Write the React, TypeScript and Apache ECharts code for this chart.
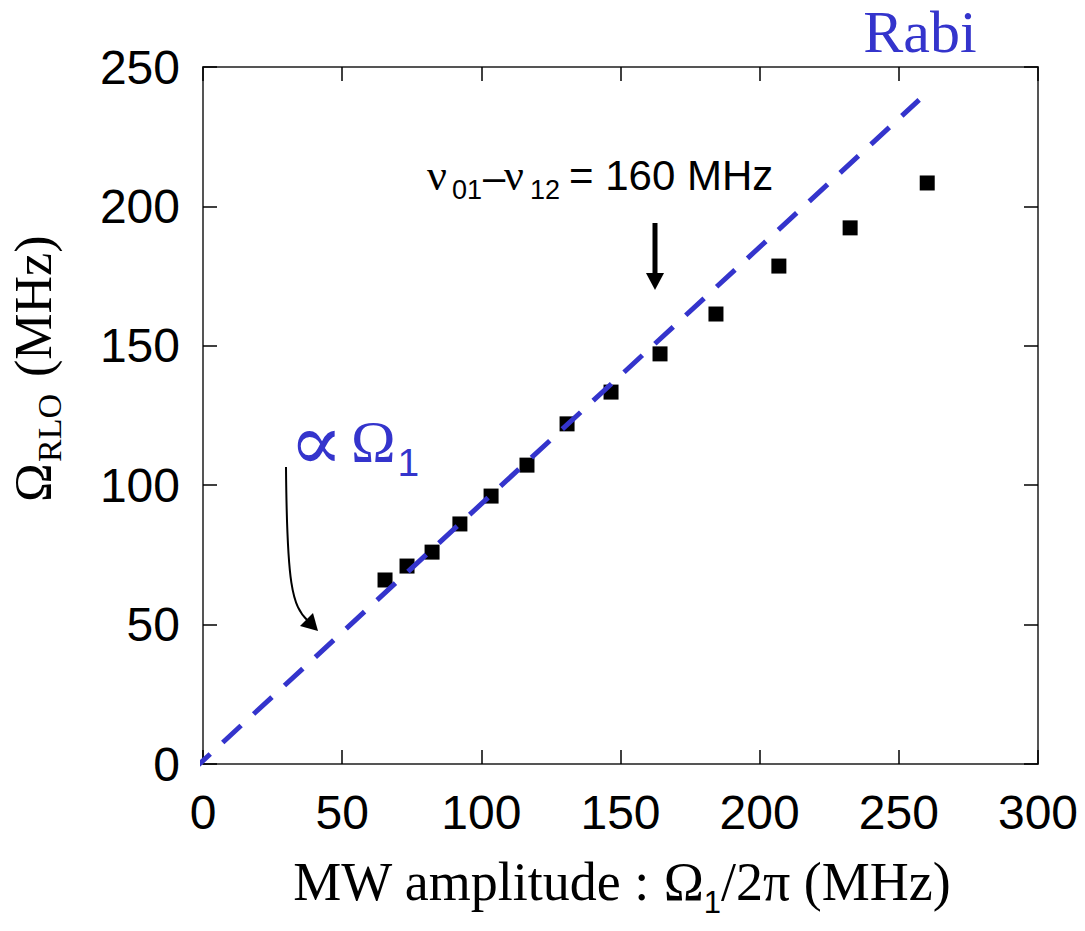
import React, { useEffect, useRef } from "react";
import * as echarts from "echarts";

const mwAmplitude = [65.4, 73.3, 82.3, 92.3, 103.5, 116.4, 130.8, 146.6, 164.2, 184.3, 206.9, 232.5, 260.2];
const omegaRLO = [66.0, 71.0, 76.0, 86.1, 96.1, 107.2, 122.0, 133.4, 147.1, 161.4, 178.6, 192.3, 208.4];
const rabiX = [-4, 257.3];
const rabiY = [-2.5, 238.2];
const xTicks = [0, 50, 100, 150, 200, 250, 300];
const yTicks = [0, 50, 100, 150, 200, 250];

const BLUE = "#3434CC";
const SERIF = "'Liberation Serif', 'DejaVu Serif', serif";
const SANS = "'Liberation Sans', Arial, sans-serif";

let measureCtx: CanvasRenderingContext2D | null = null;
function measure(text: string, size: number, family: string) {
  if (!measureCtx) measureCtx = document.createElement("canvas").getContext("2d");
  if (!measureCtx) return text.length * size * 0.5;
  measureCtx.font = `${size}px ${family}`;
  return measureCtx.measureText(text).width;
}

function txt(text: string, x: number, y: number, size: number, family: string, fill = "#000", align = "left") {
  return {
    type: "text",
    x,
    y,
    silent: true,
    style: {
      text,
      fontSize: size,
      fontFamily: family,
      fill,
      textAlign: align,
      align,
      textVerticalAlign: "middle",
      verticalAlign: "middle",
    },
  };
}

// pieces: [text, size, family, yCenter]
function row(pieces: [string, number, string, number][], startX: number, fill = "#000", center = false) {
  const widths = pieces.map((p) => measure(p[0], p[1], p[2]));
  const total = widths.reduce((a, b) => a + b, 0);
  let x = center ? startX - total / 2 : startX;
  return pieces.map((p, i) => {
    const el = txt(p[0], x, p[3], p[1], p[2], fill);
    x += widths[i];
    return el;
  });
}

export default function App() {
  const ref = useRef<HTMLDivElement>(null);
  useEffect(() => {
    if (!ref.current) return;
    const chart = echarts.init(ref.current, null, { renderer: "svg" });
    const points = mwAmplitude.map((x, i) => [x, omegaRLO[i]]);
    const rabi = rabiX.map((x, i) => [x, rabiY[i]]);
    const axisLine = { show: true, onZero: false, lineStyle: { color: "#555", width: 2 } };
    const axisTick = { show: true, inside: true, length: 14, lineStyle: { color: "#000", width: 1.5 } };
    const xTitle = row(
      [
        ["MW amplitude : ", 54, SERIF, 882],
        ["\u03A9", 54, SERIF, 882],
        ["1", 31, SANS, 902],
        ["/2\u03C0 (MHz)", 54, SERIF, 882],
      ],
      622,
      "#000",
      true
    );
    const omegaW = measure("\u03A9", 60, SERIF);
    chart.setOption({
      animation: false,
      backgroundColor: "#fff",
      grid: { left: 203, right: 47, top: 67, bottom: 167 },
      xAxis: [
        {
          type: "value", min: xTicks[0], max: xTicks[xTicks.length - 1], interval: 50,
          axisLine, axisTick, splitLine: { show: false },
          axisLabel: { fontSize: 48, fontFamily: SANS, color: "#000", margin: 24 },
        },
        {
          type: "value", position: "top", min: 0, max: 300, interval: 50,
          axisLine, axisTick, splitLine: { show: false }, axisLabel: { show: false },
        },
      ],
      yAxis: [
        {
          type: "value", min: yTicks[0], max: yTicks[yTicks.length - 1], interval: 50,
          axisLine, axisTick, splitLine: { show: false },
          axisLabel: { fontSize: 48, fontFamily: SANS, color: "#000", margin: 23 },
        },
        {
          type: "value", position: "right", min: 0, max: 250, interval: 50,
          axisLine, axisTick, splitLine: { show: false }, axisLabel: { show: false },
        },
      ],
      series: [
        {
          type: "scatter",
          data: points,
          symbol: "rect",
          symbolSize: 15,
          itemStyle: { color: "#000", opacity: 1 },
          z: 2,
        },
        {
          type: "line",
          data: rabi,
          clip: false,
          showSymbol: false,
          symbol: "none",
          lineStyle: { color: BLUE, width: 5, type: [25, 17], cap: "butt" },
          z: 3,
        },
      ],
      graphic: [
        txt("Rabi", 920, 32, 60, SERIF, BLUE, "center"),
        txt("\u221D", 289, 442, 80, "'DejaVu Serif', serif", BLUE),
        txt("\u03A9", 351, 442, 60, SERIF, BLUE),
        txt("1", 351 + omegaW + 2, 462, 39, SANS, BLUE),
        txt("\u03BD", 427, 175, 44, SERIF),
        txt("01", 452, 190, 27, SANS),
        txt("\u2013", 483, 177, 40, SANS),
        txt("\u03BD", 504, 175, 44, SERIF),
        txt("12", 530, 190, 27, SANS),
        txt("= 160 MHz", 569, 175.5, 42, SANS),
        ...xTitle,
        {
          type: "group",
          x: 51,
          y: 502,
          rotation: Math.PI / 2,
          children: [
            txt("\u03A9", 0, -17.5, 52, SERIF),
            txt("RLO", 40, -2, 34, SERIF),
            txt("(MHz)", 125, -17.5, 52, SERIF),
          ],
        },
        {
          type: "line",
          silent: true,
          shape: { x1: 655, y1: 223, x2: 655, y2: 276 },
          style: { stroke: "#000", lineWidth: 5 },
        },
        {
          type: "polygon",
          silent: true,
          shape: { points: [[646, 273], [664, 273], [655, 290]] },
          style: { fill: "#000" },
        },
        {
          type: "bezierCurve",
          silent: true,
          shape: { x1: 286, y1: 467, cpx1: 287, cpy1: 585, cpx2: 292, cpy2: 606, x2: 308, y2: 621 },
          style: { stroke: "#000", lineWidth: 2, fill: "none" },
        },
        {
          type: "polygon",
          silent: true,
          shape: { points: [[318, 631], [300, 626], [313, 613]] },
          style: { fill: "#000" },
        },
      ],
    });
    return () => chart.dispose();
  }, []);
  return (
    <div
      ref={ref}
      style={{ position: "fixed", left: 0, top: 0, width: 1085, height: 931, background: "#fff" }}
    />
  );
}
